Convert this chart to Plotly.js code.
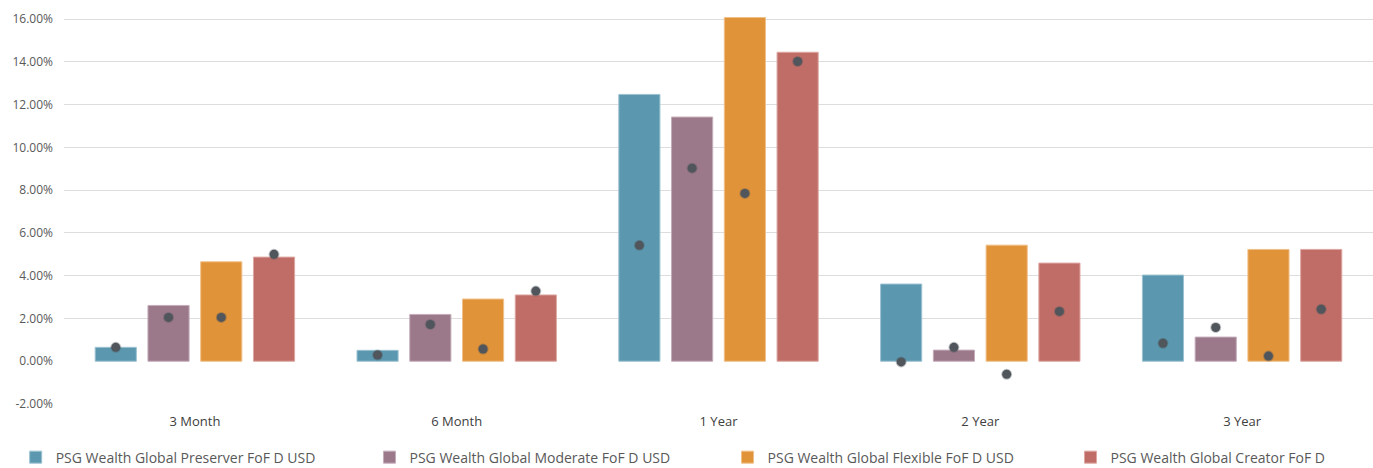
<!DOCTYPE html>
<html>
<head>
<meta charset="utf-8">
<script src="https://cdn.plot.ly/plotly-3.0.1.min.js"></script>
<style>
  html, body { margin: 0; padding: 0; background: #ffffff; }
  #chart { width: 1373px; height: 468px; }
</style>
</head>
<body>
<div id="chart"></div>
<script>
const periods = ["3 Month", "6 Month", "1 Year", "2 Year", "3 Year"];

const fundNames = [
  "PSG Wealth Global Preserver FoF D USD",
  "PSG Wealth Global Moderate FoF D USD",
  "PSG Wealth Global Flexible FoF D USD",
  "PSG Wealth Global Creator FoF D"
];

// bar values (%)
const preserverBars = [0.65, 0.51, 12.48, 3.61, 4.03];
const moderateBars  = [2.61, 2.19, 11.42, 0.52, 1.13];
const flexibleBars  = [4.65, 2.91, 16.08, 5.43, 5.23];
const creatorBars   = [4.87, 3.10, 14.45, 4.59, 5.23];

// dot values (%)
const preserverDots = [0.65, 0.29, 5.42, -0.03, 0.84];
const moderateDots  = [2.05, 1.72, 9.03, 0.65, 1.58];
const flexibleDots  = [2.05, 0.57, 7.85, -0.61, 0.24];
const creatorDots   = [5.00, 3.28, 14.02, 2.33, 2.43];

const yTickVals = [-2, 0, 2, 4, 6, 8, 10, 12, 14, 16];
const yTickText = ["-2.00%", "0.00%", "2.00%", "4.00%", "6.00%", "8.00%", "10.00%", "12.00%", "14.00%", "16.00%"];

const colors = ["#5B98B0", "#9C788B", "#E09338", "#BF6D66"];
const edgeColors = ["#9CC2D1", "#C4ADB9", "#F0C08A", "#DDA7A2"];
const legendIds = ["legend", "legend2", "legend3", "legend4"];
const legendX = [-0.0369, 0.2334, 0.5069, 0.7689];
const barSeries = [preserverBars, moderateBars, flexibleBars, creatorBars];
const dotSeries = [preserverDots, moderateDots, flexibleDots, creatorDots];

const traces = [];
barSeries.forEach((vals, i) => {
  traces.push({
    type: "bar",
    name: fundNames[i],
    x: periods,
    y: vals,
    offsetgroup: "g" + i,
    legend: legendIds[i],
    marker: { color: colors[i], line: { color: edgeColors[i], width: 1 } },
    hoverinfo: "skip"
  });
});
dotSeries.forEach((vals, i) => {
  traces.push({
    type: "scatter",
    mode: "markers",
    name: fundNames[i] + " dot",
    x: periods,
    y: vals,
    offsetgroup: "g" + i,
    showlegend: false,
    marker: { color: "#50565C", size: 9, line: { color: "rgba(80,86,92,0.35)", width: 2 } },
    hoverinfo: "skip"
  });
});

const layout = {
  width: 1373,
  height: 468,
  margin: { l: 64, r: 0, t: 17, b: 64, autoexpand: false },
  paper_bgcolor: "#ffffff",
  plot_bgcolor: "#ffffff",
  font: { family: "Open Sans, sans-serif", color: "#595959", size: 12 },
  barmode: "group",
  bargap: 0.194,
  bargroupgap: 0.22,
  scattermode: "group",
  scattergap: 0.194,
  showlegend: true,
  xaxis: {
    type: "category",
    showgrid: false,
    zeroline: false,
    showline: false,
    ticks: "",
    tickfont: { size: 13, color: "#404040" },
    ticklabelstandoff: 8
  },
  yaxis: {
    range: [-2, 16.1],
    tickvals: yTickVals,
    ticktext: yTickText,
    showgrid: true,
    gridcolor: "#DDDDDD",
    gridwidth: 1,
    zeroline: true,
    zerolinecolor: "rgba(0,0,0,0)",
    showline: false,
    ticks: "",
    tickfont: { size: 12, color: "#595959" },
    ticklabelstandoff: 10
  }
};

legendIds.forEach((id, i) => {
  layout[id] = {
    orientation: "h",
    x: legendX[i],
    xanchor: "left",
    y: -0.097,
    yanchor: "top",
    font: { size: 14, color: "#595959" },
    itemwidth: 30,
    bgcolor: "rgba(0,0,0,0)"
  };
});

Plotly.newPlot("chart", traces, layout, { displayModeBar: false, staticPlot: true });
</script>
</body>
</html>
